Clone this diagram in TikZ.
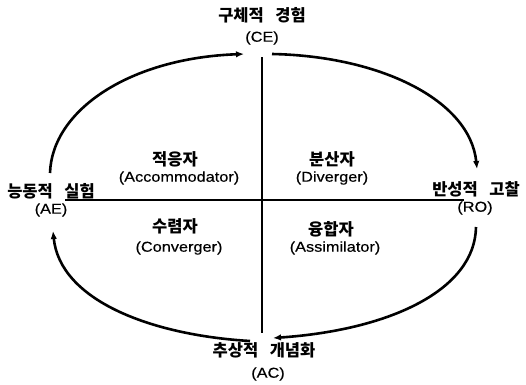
\documentclass[tikz,border=0pt]{standalone}
\usepackage{fontspec}
\setmainfont{Liberation Sans}[FakeStretch=1.14,FakeBold=0.4]
\newfontfamily\krfont{Noto Sans CJK KR}
\usetikzlibrary{arrows.meta}
\newcommand{\ksp}{\hspace{0.7em}}
\begin{document}
\begin{tikzpicture}[x=1pt,y=-1pt,
  kr/.style={font=\krfont\bfseries\fontsize{16.5}{18}\selectfont, inner sep=0pt},
  en/.style={font=\fontsize{14.3}{16}\selectfont, inner sep=0pt},
  cyc/.style={line width=2.6pt, -{Latex[length=8pt,width=6.5pt]}},
  axisline/.style={line width=1.8pt}]
\useasboundingbox (0,0) rectangle (526,384);
% pole labels
\node[kr] (ce) at (262,15) {구체적\ksp 경험};
\node[en] (ce2) at (262,38) {(CE)};
\node[kr] (ae) at (51,191) {능동적\ksp 실험};
\node[en] (ae2) at (51,210) {(AE)};
\node[kr] (ro) at (476,189) {반성적\ksp 고찰};
\node[en] (ro2) at (475,208) {(RO)};
\node[kr] (ac) at (264,350) {추상적\ksp 개념화};
\node[en] (ac2) at (268,374) {(AC)};
% quadrant labels
\node[kr] (acc) at (175,159) {적응자};
\node[en] (acc2) at (179,178) {(Accommodator)};
\node[kr] (div) at (332,159) {분산자};
\node[en] (div2) at (332,178) {(Diverger)};
\node[kr] (con) at (175,226) {수렴자};
\node[en] (con2) at (179,248) {(Converger)};
\node[kr] (asm) at (331,229) {융합자};
\node[en] (asm2) at (335,248) {(Assimilator)};
% axes
\coordinate (vtop) at (262,57);
\coordinate (vbot) at (262,333);
\coordinate (hl) at (65,200);
\coordinate (hr) at (464,200);
\draw[axisline] (vtop) -- (vbot);
\draw[axisline] (hl) -- (hr);
% cycle arcs
\coordinate (ae-out) at (50,173);
\coordinate (ce-in) at (244,54);
\coordinate (ce-out) at (272,54);
\coordinate (ro-in) at (477,169);
\coordinate (ro-out) at (476,227);
\coordinate (ac-in) at (273,338);
\coordinate (ac-out) at (250,341);
\coordinate (ae-in) at (53,231);
\draw[cyc] (ae-out) .. controls (52,110) and (130,58) .. (ce-in);
\draw[cyc] (ce-out) .. controls (380,56) and (470,100) .. (ro-in);
\draw[cyc] (ro-out) .. controls (475,290) and (390,330) .. (ac-in);
\draw[cyc] (ac-out) .. controls (150,335) and (60,300) .. (ae-in);
\end{tikzpicture}
\end{document}
